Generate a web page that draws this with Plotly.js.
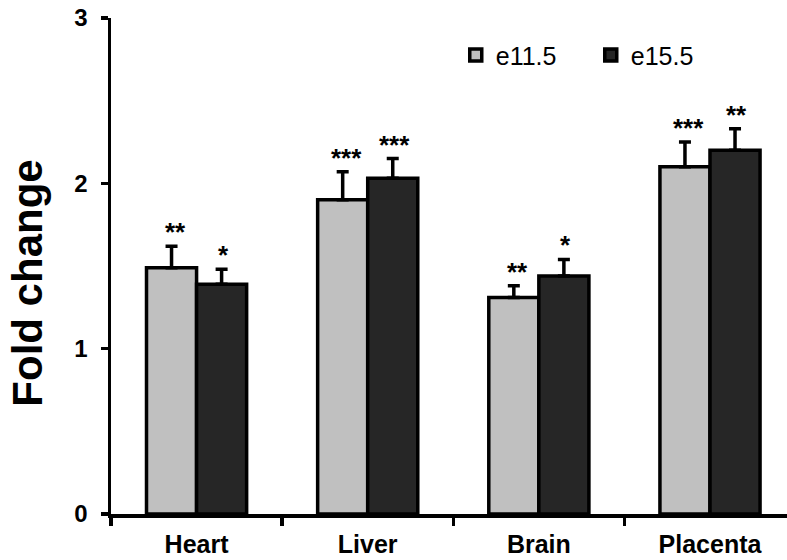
<!DOCTYPE html>
<html><head><meta charset="utf-8">
<script src="https://cdn.plot.ly/plotly-3.0.1.min.js"></script>
<style>html,body{margin:0;padding:0;background:#fff}</style>
</head><body>
<div id="chart" style="width:787px;height:560px"></div>
<script>
const categories = ["Heart", "Liver", "Brain", "Placenta"];
const e115 = [1.49, 1.90, 1.31, 2.10];
const e115Err = [0.13, 0.17, 0.07, 0.15];
const e155 = [1.39, 2.03, 1.44, 2.20];
const e155Err = [0.09, 0.12, 0.10, 0.13];
const e115Sig = ["**", "***", "**", "***"];
const e155Sig = ["*", "***", "*", "**"];
const yTicks = [0, 1, 2, 3];
const yTitle = "Fold change";

const traces = [
  {
    type: 'bar', name: 'e11.5', x: categories, y: e115,
    marker: {color: '#c0c0c0', line: {color: '#000', width: 3.5}},
    error_y: {type: 'data', symmetric: false, array: e115Err, arrayminus: e115.map(() => 0), color: '#000', thickness: 3.5, width: 6}
  },
  {
    type: 'bar', name: 'e15.5', x: categories, y: e155,
    marker: {color: '#262626', line: {color: '#000', width: 3.5}},
    error_y: {type: 'data', symmetric: false, array: e155Err, arrayminus: e155.map(() => 0), color: '#000', thickness: 3.5, width: 6}
  }
];

const starFont = {family: 'Liberation Sans, Arial', size: 26, weight: 'bold', color: '#000'};
const annotations = [];
categories.forEach((c, i) => {
  annotations.push({x: c, y: e115[i] + e115Err[i], text: e115Sig[i], xref: 'x', yref: 'y', showarrow: false,
    xshift: -21, yanchor: 'bottom', yshift: -3, font: starFont});
  annotations.push({x: c, y: e155[i] + e155Err[i], text: e155Sig[i], xref: 'x', yref: 'y', showarrow: false,
    xshift: 27, yanchor: 'bottom', yshift: -3, font: starFont});
});
annotations.push({
  text: yTitle, xref: 'paper', yref: 'paper', x: -0.124, y: 0.4647,
  xanchor: 'center', yanchor: 'middle', textangle: -90, showarrow: false,
  font: {family: 'Liberation Sans, Arial', size: 42, weight: 'bold', color: '#000'}
});

const layout = {
  width: 787, height: 560,
  margin: {l: 111, r: 0, t: 18, b: 46},
  paper_bgcolor: '#fff', plot_bgcolor: '#fff',
  font: {family: 'Liberation Sans, Arial, sans-serif', color: '#000'},
  barmode: 'group', bargap: 0.415, bargroupgap: 0,
  showlegend: true,
  legend: {orientation: 'h', x: 0.51, y: 0.925, xanchor: 'left', yanchor: 'middle',
    font: {size: 25, color: '#000'}, itemwidth: 30, entrywidth: 90, entrywidthmode: 'pixels',
    tracegroupgap: 0, bgcolor: 'rgba(0,0,0,0)'},
  xaxis: {
    type: 'category', range: [-0.5, 3.45], tickson: 'boundaries',
    showline: true, linecolor: '#000', linewidth: 3.5,
    ticks: 'outside', ticklen: 8, tickwidth: 3.5, tickcolor: '#000',
    tickfont: {size: 25, weight: 'bold', color: '#000'}, ticklabelstandoff: 5,
    showgrid: false, zeroline: false
  },
  yaxis: {
    range: [0, 3], tickmode: 'array', tickvals: yTicks, ticktext: yTicks.map(String),
    showline: true, linecolor: '#000', linewidth: 3.5,
    ticks: 'outside', ticklen: 7, tickwidth: 3.5, tickcolor: '#000',
    tickfont: {size: 24, weight: 'bold', color: '#000'}, ticklabelstandoff: 8,
    showgrid: false, zeroline: false
  },
  annotations: annotations
};

Plotly.newPlot('chart', traces, layout, {displayModeBar: false, staticPlot: true});
</script>
</body></html>
